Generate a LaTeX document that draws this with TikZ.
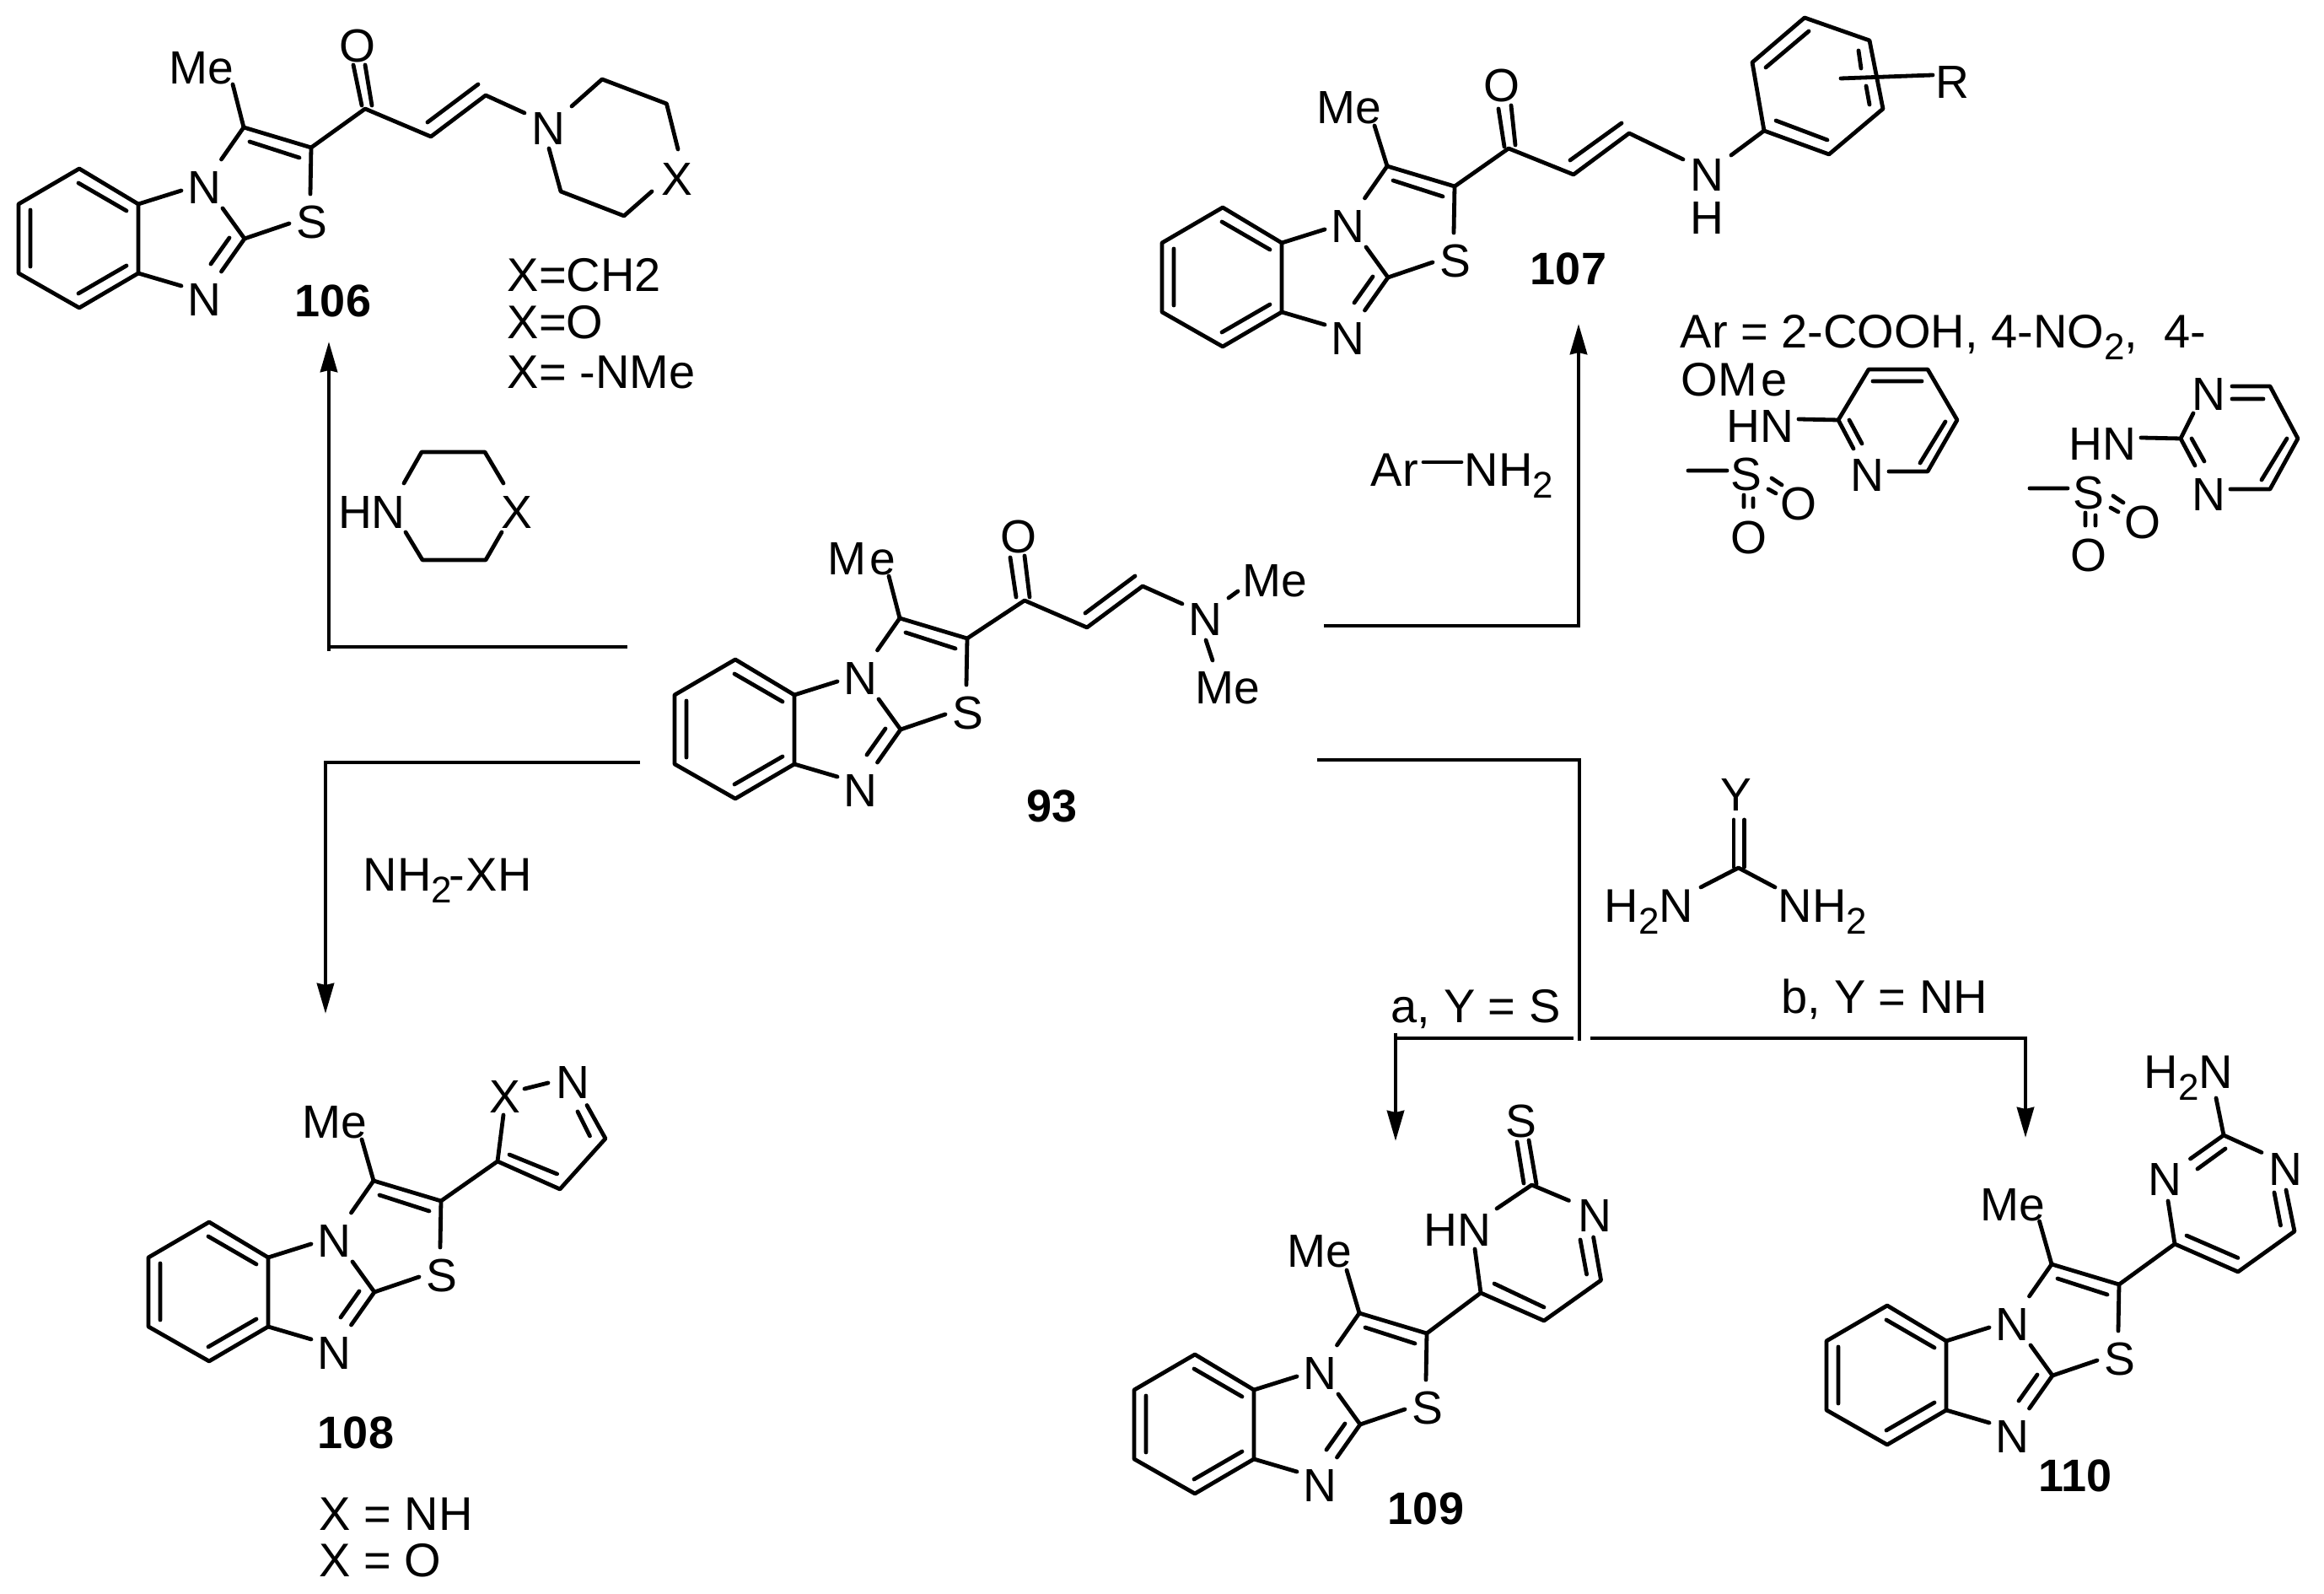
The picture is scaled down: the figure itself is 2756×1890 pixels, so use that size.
\documentclass[tikz,border=0pt]{standalone}
\usepackage{fontspec}
\setmainfont{Liberation Sans}
\usetikzlibrary{calc,arrows.meta}
\tikzset{
  bnd/.style={line width=1.2pt,line join=round,line cap=round},
  conn/.style={line width=1.2pt,line join=miter},
  arr/.style={conn,-{Stealth[length=9pt,width=5pt,inset=0.5pt]}},
  atom/.style={inner sep=0pt,font=\fontsize{13.8}{14}\selectfont},
  txt/.style={inner sep=0pt,anchor=base west,font=\fontsize{14}{14}\selectfont},
  cpd/.style={inner sep=0pt,font=\fontsize{13.5}{14}\selectfont\bfseries},
}
\newcommand{\lo}[1]{\raisebox{-3.4pt}{\fontsize{11}{11}\selectfont #1}}
% fused benzimidazo-thiazole core; #1 prefix, #2 #3 origin
\newcommand{\core}[3]{%
 \begin{scope}[shift={(#2,#3)}]
  \coordinate (#1T) at (-70,-83); \coordinate (#1UL) at (-142,-41);
  \coordinate (#1LL) at (-142,41); \coordinate (#1B) at (-70,82);
  \coordinate (#1LR) at (0,41); \coordinate (#1UR) at (0,-41);
  \coordinate (#1C2) at (126,0); \coordinate (#1C4) at (125,-132);
  \coordinate (#1C5) at (205,-108);
  \node[atom] (#1N1) at (78,-60) {N};
  \node[atom] (#1N3) at (78,73) {N};
  \node[atom] (#1S) at (206,-19) {S};
  \coordinate (#1a) at (51,-57); \coordinate (#1b) at (51,56);
  \coordinate (#1c) at (100,-36); \coordinate (#1d) at (98.5,39);
  \coordinate (#1e) at (179,-18); \coordinate (#1f) at (98.5,-94);
  \coordinate (#1g) at (204,-53);
  \draw[bnd] (#1T)--(#1UL)--(#1LL)--(#1B)--(#1LR)--(#1UR)--cycle;
  \draw[bnd] (-71,-66)--(-14,-33) (-128,-34)--(-128,33) (-71,65)--(-14,32);
  \draw[bnd] (#1UR)--(#1a) (#1LR)--(#1b) (#1c)--(#1C2)--(#1d);
  \draw[bnd] (108,-1)--(86,30);
  \draw[bnd] (#1C2)--(#1e) (#1f)--(#1C4)--(#1C5)--(#1g);
  \draw[bnd] (132,-115)--(191,-96);
 \end{scope}}
\begin{document}
\begin{tikzpicture}[x=0.25pt,y=-0.25pt]
\useasboundingbox (0,0) rectangle (2756,1890);

%% ---------- 93
\core{p}{942}{865}
\node[atom] (pMe) at (1022,663) {M\kern1.2pt e};
\coordinate (pMeE) at (1054,683);
\coordinate (pCO) at (1215,712); \coordinate (pCa) at (1289,744); \coordinate (pCb) at (1355,695);
\node[atom] (pO) at (1208,637) {O};
\node[atom] (pN) at (1429,735) {N};
\node[atom] (pMe2) at (1512,689) {Me};
\node[atom] (pMe3) at (1456,816) {Me};
\path (1402,716) coordinate (pn1) (1457,709) coordinate (pn2) (1468,701) coordinate (pn3)
      (1430,759) coordinate (pn4) (1438,783) coordinate (pn5);
\draw[bnd] (pC4)--(pMeE) (pC5)--(pCO)--(pCa)--(pCb)--(pn1) (pn2)--(pn3) (pn4)--(pn5);
\draw[bnd] (1205,708)--(1198,661) (1221,708)--(1215,659);
\draw[bnd] (1287,727)--(1346,683);
\node[cpd] (l93) at (1248,956) {93};

%% ---------- 106
\core{a}{164}{283}
\node[atom] (aMe) at (239,81) {Me};
\coordinate (aMeE) at (276,100);
\coordinate (aCO) at (433,129); \coordinate (aCa) at (511,162); \coordinate (aCb) at (576,113);
\node[atom] (aO) at (424,55) {O};
\node[atom] (aN) at (650,153) {N};
\node[atom] (aX) at (803,213) {X};
\path (622,134) coordinate (an1) (678,126) coordinate (an2) (714,94) coordinate (ar1)
      (790.5,123) coordinate (ar2) (804,177) coordinate (an3) (773,227) coordinate (an4)
      (740,256) coordinate (ar3) (665,227) coordinate (ar4) (651,176) coordinate (an5);
\draw[bnd] (aC4)--(aMeE) (aC5)--(aCO)--(aCa)--(aCb)--(an1);
\draw[bnd] (an2)--(ar1)--(ar2)--(an3) (an4)--(ar3)--(ar4)--(an5);
\draw[bnd] (429,125)--(419,77) (441,125)--(433,77);
\draw[bnd] (507,145)--(567,100);
\node[cpd] (l106) at (395,357) {106};
\node[txt] (ax1) at (601,346) {X=CH2};
\node[txt] (ax2) at (601,402) {X=O};
\node[txt] (ax3) at (601,461) {X= -NMe};

%% ---------- 107
\core{b}{1520}{329}
\node[atom] (bMe) at (1600,128) {Me};
\coordinate (bMeE) at (1630,149);
\coordinate (bCO) at (1789,176); \coordinate (bCa) at (1866,207); \coordinate (bCb) at (1932,158);
\node[atom] (bO) at (1781,102) {O};
\node[atom] (bN) at (2024,208) {N};
\node[atom] (bH) at (2024,259) {H};
\node[atom] (bR) at (2315,98) {R};
\path (1996,189) coordinate (bn1) (2053,184) coordinate (bn2) (2092,155) coordinate (br1)
      (2078,74) coordinate (br2) (2140,21) coordinate (br3) (2217,48) coordinate (br4)
      (2233,129) coordinate (br5) (2169,183) coordinate (br6)
      (2183,93) coordinate (bs1) (2292,89) coordinate (bs2);
\draw[bnd] (bC4)--(bMeE) (bC5)--(bCO)--(bCa)--(bCb)--(bn1) (bn2)--(br1);
\draw[bnd] (br1)--(br2)--(br3)--(br4)--(br5)--(br6)--cycle (bs1)--(bs2);
\draw[bnd] (1784,174)--(1777,129) (1797,172)--(1792,125);
\draw[bnd] (1862,190)--(1923,146);
\draw[bnd] (2094,80)--(2145,37) (2204,60)--(2207,81) (2213,102)--(2217,124) (2106,143)--(2167,166);
\node[cpd] (l107) at (1860,319) {107};
\node[txt] (ar1t) at (1992,413) {Ar = 2-COOH, 4-NO\lo{2},\ \ 4-};
\node[txt] (ar2t) at (1993,470) {OM\kern1pt e};

\node[atom] (dHN) at (2087,506) {HN};
\node[atom] (dN) at (2214,564) {N};
\node[atom] (dS) at (2071,563) {S};
\node[atom] (dO1) at (2133,598) {O};
\node[atom] (dO2) at (2074,638) {O};
\path (2133,497) coordinate (dn1) (2180,498) coordinate (dr1) (2216,438) coordinate (dr2)
      (2286,438) coordinate (dr3) (2321,498) coordinate (dr4) (2286,559) coordinate (dr5)
      (2240,559) coordinate (dn2) (2198,532) coordinate (dn3) (2002,558) coordinate (dm1)
      (2048,558) coordinate (dm2);
\draw[bnd] (dn1)--(dr1)--(dr2)--(dr3)--(dr4)--(dr5)--(dn2) (dr1)--(dn3) (dm1)--(dm2);
\draw[bnd] (2193,498)--(2208,526) (2221,452)--(2279,452) (2307,500)--(2277,549);
\draw[bnd] (2068,587)--(2068,601) (2079,591)--(2079,601) (2101,567)--(2113,575) (2097,580)--(2106,585);

\node[atom] (eHN) at (2493,527) {HN};
\node[atom] (eN1) at (2619,468) {N};
\node[atom] (eN2) at (2619,587) {N};
\node[atom] (eS) at (2477,585) {S};
\node[atom] (eO1) at (2541,620) {O};
\node[atom] (eO2) at (2477,659) {O};
\path (2539,519) coordinate (en1) (2586,520) coordinate (er1) (2601,490) coordinate (en2)
      (2647,458) coordinate (en3) (2692,458) coordinate (er3) (2725,520) coordinate (er4)
      (2692,580) coordinate (er5) (2645,580) coordinate (en4) (2603,552) coordinate (en5)
      (2407,579) coordinate (em1) (2452,579) coordinate (em2);
\draw[bnd] (en1)--(er1)--(en2) (en3)--(er3)--(er4)--(er5)--(en4) (er1)--(en5) (em1)--(em2);
\draw[bnd] (2647,473)--(2684,473) (2712,520)--(2682,569) (2599,520)--(2614,547);
\draw[bnd] (2473,608)--(2473,623) (2485,611)--(2485,623) (2506,588)--(2518,596) (2503,602)--(2512,607);

%% ---------- 108
\core{c}{318}{1532}
\node[atom] (cMe) at (397,1331) {Me};
\coordinate (cMeE) at (429,1351);
\node[atom] (cX) at (599,1301) {X};
\node[atom] (cN) at (679,1284) {N};
\path (590,1377) coordinate (cr1) (597,1322) coordinate (cn1) (622,1291) coordinate (cn2)
      (650,1284) coordinate (cn3) (696,1310.5) coordinate (cn4) (718,1350) coordinate (cr2)
      (664,1410) coordinate (cr3);
\draw[bnd] (cC4)--(cMeE) (cC5)--(cr1)--(cn1) (cn2)--(cn3) (cn4)--(cr2)--(cr3)--(cr1);
\draw[bnd] (685,1318)--(699.5,1347) (604,1369)--(660.6,1392);
\node[cpd] (l108) at (422,1699) {108};
\node[txt] (cx1) at (378,1815) {X = NH};
\node[txt] (cx2) at (378,1870) {X = O};

%% ---------- 109
\core{f}{1487}{1689}
\node[atom] (fMe) at (1565,1484) {Me};
\coordinate (fMeE) at (1597,1506);
\node[atom] (fHN) at (1728,1459) {HN};
\node[atom] (fS2) at (1804,1330) {S};
\node[atom] (fN) at (1891.5,1442) {N};
\path (1756,1533) coordinate (fr1) (1749,1481) coordinate (fn1) (1775,1433) coordinate (fn2)
      (1816.5,1405) coordinate (fr2) (1860.5,1423.5) coordinate (fn3) (1889.6,1467) coordinate (fn4)
      (1898.6,1518) coordinate (fr3) (1831,1566) coordinate (fr4);
\draw[bnd] (fC4)--(fMeE) (fC5)--(fr1)--(fn1) (fn2)--(fr2)--(fn3) (fn4)--(fr3)--(fr4)--(fr1);
\draw[bnd] (1807,1403)--(1799,1354) (1822,1404)--(1813,1352);
\draw[bnd] (1874,1470)--(1881.6,1511) (1772,1522)--(1831,1550);
\node[cpd] (l109) at (1691,1789) {109};

%% ---------- 110
\core{g}{2308}{1631}
\node[atom] (gMe) at (2386.6,1429) {Me};
\coordinate (gMeE) at (2418.5,1448);
\node[txt] (gNH) at (2542,1291) {H\lo{2}N};
\node[atom] (gN1) at (2567.5,1398.5) {N};
\node[atom] (gN2) at (2710,1387) {N};
\path (2579,1475) coordinate (gr1) (2571,1424) coordinate (gn1) (2637,1346) coordinate (gr2)
      (2628,1302) coordinate (gn2) (2682,1366.5) coordinate (gn3) (2597.5,1374) coordinate (gn4)
      (2711,1411) coordinate (gn5) (2721,1460) coordinate (gr3) (2654,1508) coordinate (gr4);
\draw[bnd] (gC4)--(gMeE) (gC5)--(gr1)--(gn1) (gn2)--(gr2)--(gn3) (gr2)--(gn4) (gn5)--(gr3)--(gr4)--(gr1);
\draw[bnd] (2639,1362)--(2606,1386) (2697,1414)--(2704.5,1453) (2593,1465)--(2654,1491.5);
\node[cpd] (l110) at (2461,1750) {110};

%% ---------- amine reagent
\node[atom] (hHN) at (441,608) {HN};
\node[atom] (hX) at (613,608) {X};
\path (479,573) coordinate (h1) (500,536) coordinate (h2) (575,536) coordinate (h3) (597,573) coordinate (h4)
      (481,631) coordinate (h5) (501,664) coordinate (h6) (576,664) coordinate (h7) (595,631) coordinate (h8);
\draw[bnd] (h1)--(h2)--(h3)--(h4) (h5)--(h6)--(h7)--(h8);

%% ---------- other reagents and conditions
\node[txt] (i1) at (1625,577) {Ar};
\node[txt] (i2) at (1736,577) {NH\lo{2}};
\path (1688,548) coordinate (i3) (1733,548) coordinate (i4);
\draw[bnd] (i3)--(i4);
\node[txt] (j1) at (430,1057) {NH\lo{2}\kern-1pt-\kern0.5pt XH};

\node[atom] (kY) at (2059,943) {Y};
\node[txt] (kA) at (1902,1094) {H\lo{2}N};
\node[txt] (kB) at (2108,1094) {NH\lo{2}};
\path (2061.6,1029) coordinate (kC) (2017,1052) coordinate (k1) (2105,1052) coordinate (k2);
\draw[bnd] (k1)--(kC)--(k2);
\draw[bnd] (2056,972)--(2056,1028) (2068.5,972)--(2068.5,1028);
\node[txt] (ka) at (1649,1213) {a, Y = S};
\node[txt] (kb) at (2112,1202) {b, Y = NH};

%% ---------- reaction arrows
\path (744,767) coordinate (q1) (390,767) coordinate (q2) (390,772) coordinate (q0) (390,405) coordinate (q3);
\draw[conn] (q1)--(q2);
\draw[arr] (q0)--(q3);
\path (759,904) coordinate (r1) (386,904) coordinate (r2) (386,1202) coordinate (r3);
\draw[arr] (r1)--(r2)--(r3);
\path (1570,742) coordinate (s1) (1872,742) coordinate (s2) (1872,384) coordinate (s3);
\draw[arr] (s1)--(s2)--(s3);
\path (1562,901) coordinate (t1) (1873,901) coordinate (t2) (1873,1234) coordinate (t3);
\draw[conn] (t1)--(t2)--(t3);
\path (1866,1231) coordinate (u1) (1655,1231) coordinate (u2) (1655,1225) coordinate (u0) (1655,1353) coordinate (u3);
\draw[conn] (u1)--(u2);
\draw[arr] (u0)--(u3);
\path (1886,1231) coordinate (v1) (2402,1231) coordinate (v2) (2402,1349) coordinate (v3);
\draw[arr] (v1)--(v2)--(v3);
\end{tikzpicture}
\end{document}
